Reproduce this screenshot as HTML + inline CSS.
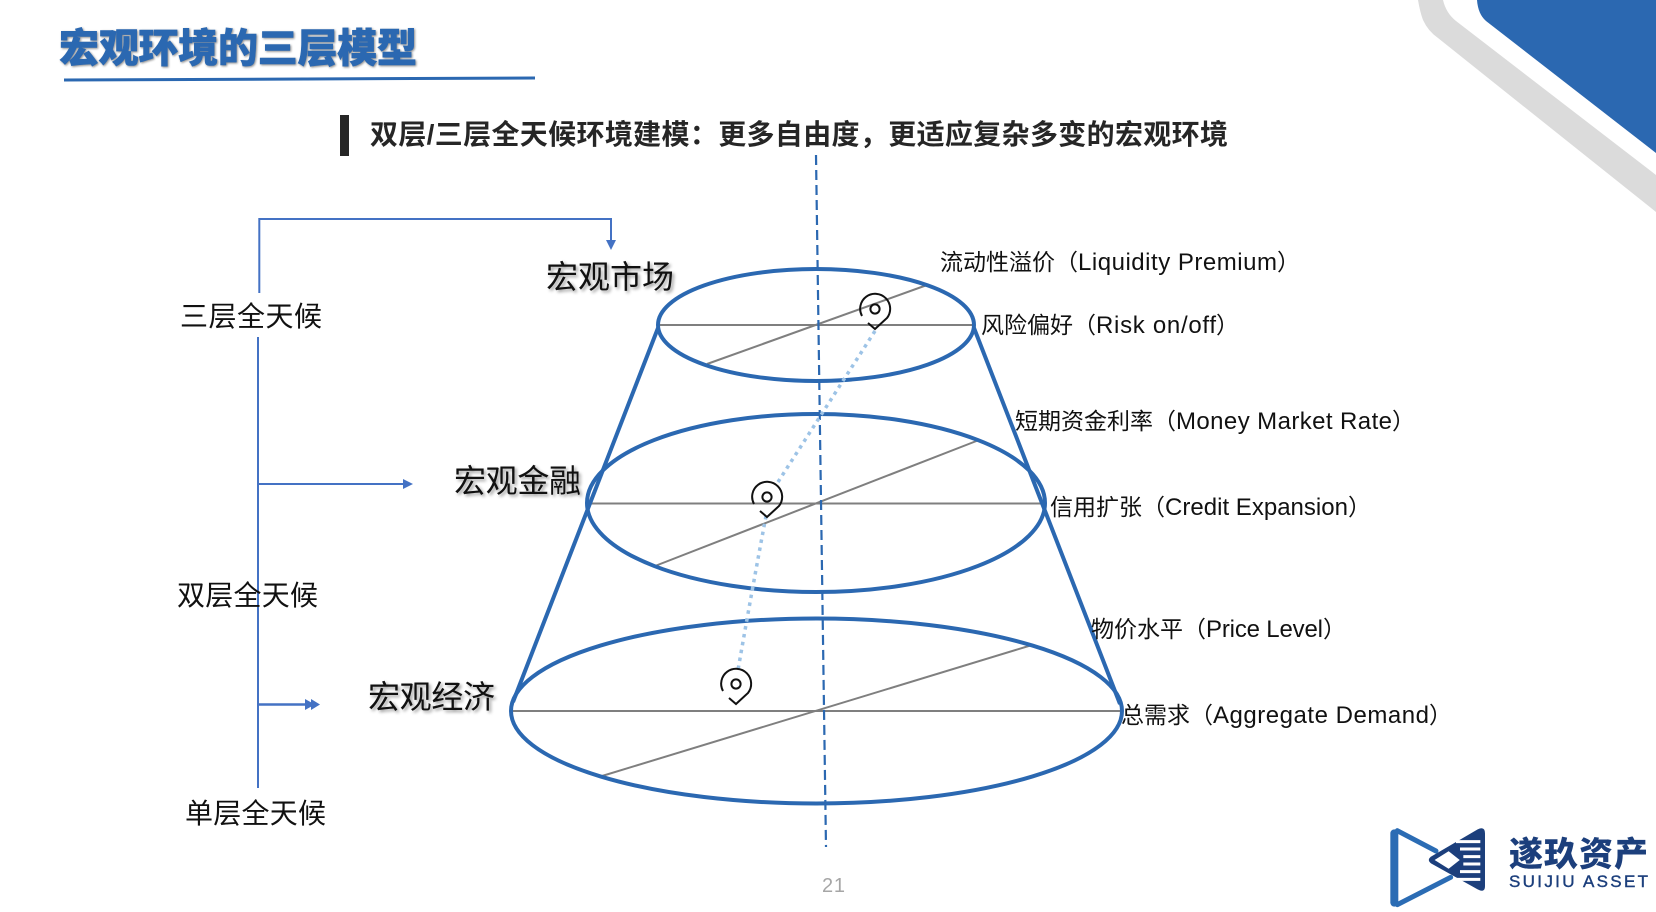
<!DOCTYPE html>
<html lang="zh-CN">
<head>
<meta charset="utf-8">
<style>
html,body{margin:0;padding:0;background:#fff;width:1656px;height:912px;overflow:hidden}
svg{display:block;position:absolute;left:0;top:0}
text{font-family:"Liberation Sans","Noto Sans CJK SC",sans-serif;fill:#111}
.r{font-size:23px}
.e{font-size:24px}
.l{font-size:28px}
.m{font-size:32px;filter:drop-shadow(2px 2px 1.5px rgba(0,0,0,.4))}
</style>
</head>
<body>
<svg width="1656" height="912" viewBox="0 0 1656 912" xmlns="http://www.w3.org/2000/svg">
<rect width="1656" height="912" fill="#fff"/>

<!-- corner -->
<path d="M1418,0 Q1420,12 1423,20 Q1428,31 1438,38 L1656,212 L1656,175 L1456,21 Q1446,13 1443,0 Z" fill="#DBDBDB"/>
<path d="M1477,0 Q1478,14 1486,21 L1656,153 L1656,0 Z" fill="#2B68B1"/>

<!-- title -->
<text x="59" y="62" font-size="40" font-weight="900" textLength="358" lengthAdjust="spacing" style="fill:#2B68B1;stroke:#2B68B1;stroke-width:.6;filter:drop-shadow(1.5px 1.5px 1px rgba(0,0,0,.45))">宏观环境的三层模型</text>
<path d="M64,80 L535,78" stroke="#2B68B1" stroke-width="3" fill="none"/>

<!-- subtitle -->
<rect x="340" y="115" width="9" height="41" fill="#262626"/>
<text x="370" y="144" font-size="28" font-weight="700" textLength="858" lengthAdjust="spacing" style="fill:#262626">双层/三层全天候环境建模&#xFF1A;更多自由度&#xFF0C;更适应复杂多变的宏观环境</text>

<!-- left brackets -->
<g fill="none" stroke="#4472C4" stroke-width="2">
<path d="M259.3,293 V219 H611 V241"/>
<path d="M258,337 V788"/>
<path d="M258,484 H404"/>
<path d="M258,704.5 H306" stroke-width="2.5"/>
</g>
<g fill="#4472C4">
<polygon points="606,240 616,240 611,250"/>
<polygon points="403,479 403,489 413,484"/>
<polygon points="305,699 305,710 315,704.5"/>
<polygon points="311,699 311,710 320,704.5"/>
</g>

<text class="l" x="180" y="326" textLength="142" lengthAdjust="spacing">三层全天候</text>
<text class="l" x="177" y="605" textLength="141" lengthAdjust="spacing">双层全天候</text>
<text class="l" x="185" y="823" textLength="141" lengthAdjust="spacing">单层全天候</text>

<text class="m" x="546" y="288" textLength="128" lengthAdjust="spacing">宏观市场</text>
<text class="m" x="454" y="492" textLength="127" lengthAdjust="spacing">宏观金融</text>
<text class="m" x="368" y="708" textLength="127" lengthAdjust="spacing">宏观经济</text>

<!-- gray lines -->
<g stroke="#7F7F7F" stroke-width="2" fill="none">
<path d="M658,325 H974"/>
<path d="M707,364 L927,285"/>
<path d="M587,503.5 H1045"/>
<path d="M655,566 L979,440"/>
<path d="M511,711 H1122"/>
<path d="M602,776 L1032,645"/>
</g>

<!-- cone -->
<g fill="none" stroke="#2B68B1" stroke-width="4">
<ellipse cx="816" cy="325" rx="158" ry="56"/>
<ellipse cx="816" cy="503" rx="229" ry="89"/>
<ellipse cx="816.5" cy="711" rx="305.5" ry="92.5"/>
<path d="M658,328 L513,702"/>
<path d="M974,328 L1120,704"/>
</g>

<!-- axis -->
<path d="M816,155 L826,847" stroke="#2B68B1" stroke-width="2.2" stroke-dasharray="10 5" fill="none"/>

<!-- dotted -->
<path d="M875,331 L778,482 M766,516 Q752,590 738,670" stroke="#9DC3E6" stroke-width="3.5" stroke-dasharray="3.5 4.5" fill="none"/>

<!-- pins -->
<defs><g id="pin" fill="none" stroke="#111" stroke-width="2"><path d="M-13,7 A15,15 0 1 1 12,9 L0,20 L-7,14"/><circle cx="0" cy="0" r="4.6"/></g></defs>
<use href="#pin" x="875" y="309"/>
<use href="#pin" x="767" y="497"/>
<use href="#pin" x="736" y="684"/>

<!-- right labels -->
<text class="r" x="940" y="270">流动性溢价&#xFF08;</text><text class="e" x="1078" y="270" textLength="199" lengthAdjust="spacing">Liquidity Premium</text><text class="r" x="1277" y="270">&#xFF09;</text>
<text class="r" x="981" y="333">风险偏好&#xFF08;</text><text class="e" x="1096" y="333" textLength="120" lengthAdjust="spacing">Risk on/off</text><text class="r" x="1216" y="333">&#xFF09;</text>
<text class="r" x="1015" y="429">短期资金利率&#xFF08;</text><text class="e" x="1176" y="429" textLength="216" lengthAdjust="spacing">Money Market Rate</text><text class="r" x="1392" y="429">&#xFF09;</text>
<text class="r" x="1050" y="515">信用扩张&#xFF08;</text><text class="e" x="1165" y="515" textLength="183" lengthAdjust="spacing">Credit Expansion</text><text class="r" x="1348" y="515">&#xFF09;</text>
<text class="r" x="1091" y="637">物价水平&#xFF08;</text><text class="e" x="1206" y="637" textLength="117" lengthAdjust="spacing">Price Level</text><text class="r" x="1323" y="637">&#xFF09;</text>
<text class="r" x="1121" y="723">总需求&#xFF08;</text><text class="e" x="1213" y="723" textLength="216" lengthAdjust="spacing">Aggregate Demand</text><text class="r" x="1429" y="723">&#xFF09;</text>

<!-- page number -->
<text x="822" y="892" font-size="20" style="fill:#A6A6A6" textLength="23">21</text>

<!-- logo -->
<g transform="translate(1356,800) scale(.3333)">
<path d="M115,100 V308" stroke="#2B6CB4" stroke-width="24" fill="none" stroke-linecap="round"/>
<path d="M124,92 L240,153 M124,314 L284,232" stroke="#2B6CB4" stroke-width="15" fill="none" stroke-linecap="round"/>
<path d="M225,170 L365,88 Q387,78 387,100 V258 Q387,280 365,268 L225,190 Q212,180 225,170 Z" fill="#1C3F7C"/>
<g stroke="#fff" stroke-width="9">
<path d="M300,125 H373 M312,147 H373 M322,170 H373 M322,192 H373 M312,215 H373 M300,238 H373"/>
</g>
<path d="M230,180 L278,150 L316,180 L278,210 Z" fill="#fff" stroke="#1C3F7C" stroke-width="6" stroke-linejoin="round"/>
</g>
<text x="1509" y="866" font-size="34" font-weight="900" textLength="139" lengthAdjust="spacing" style="fill:#1C3F7C;font-family:'Noto Sans CJK SC',sans-serif">遂玖资产</text>
<text x="1509" y="887" font-size="17" font-weight="400" textLength="139" lengthAdjust="spacing" style="fill:#1C3F7C;stroke:#1C3F7C;stroke-width:.4">SUIJIU ASSET</text>
</svg>
</body>
</html>
